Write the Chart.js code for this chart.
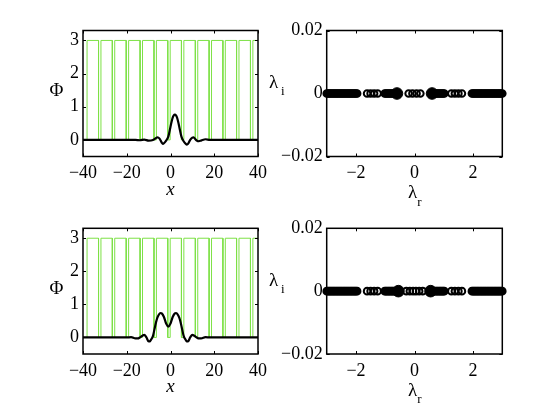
<!DOCTYPE html>
<html>
<head>
<meta charset="utf-8">
<script src="https://cdn.jsdelivr.net/npm/chart.js@4.4.1/dist/chart.umd.min.js"></script>
<style>
body { margin: 0; background: #fff; }
#fig { position: relative; width: 554px; height: 416px; }
canvas { position: absolute; }
#probe { position: absolute; left: -999px; top: 0; font-family: "Liberation Serif"; }
</style>
</head>
<body>
<div id="probe">0123 Φλ <i>x</i></div>
<div id="fig">
<canvas id="c1" width="277" height="208" style="left:0;top:0"></canvas>
<canvas id="c2" width="304" height="208" style="left:250px;top:0"></canvas>
<canvas id="c3" width="277" height="208" style="left:0;top:208px"></canvas>
<canvas id="c4" width="304" height="208" style="left:250px;top:208px"></canvas>
</div>
<script>
// ticks
var xTicks = [-40, -20, 0, 20, 40];
var phiTicks = [0, 1, 2, 3];
var lamTicks = [-2, 0, 2];
var imTicks = [-0.02, 0, 0.02];

// lattice potential (green): value 3 except in the narrow gaps
var potHigh = 3;
var gapStart = [-40, -32.9, -26.6, -20.25, -13.9, -7.55, -1.25, 5.0, 11.35, 17.65, 23.95, 30.2, 36.55];
var gapEnd = [-38.15, -31.8, -25.5, -19.15, -12.8, -6.45, -0.15, 6.1, 12.45, 18.75, 25.05, 31.3, 37.65];

// soliton profile, top row
var xTop = [-40, -16, -14, -12, -10, -8, -6.5, -6, -5, -4, -3.5, -3, -2, -1, 0, 0.5, 1, 1.5, 2, 2.5, 3, 3.5, 4, 5, 6, 7, 7.5, 8, 9, 10, 10.5, 11, 12, 13, 14, 16, 18, 40];
var phiTop = [0, 0, -0.01, 0.01, -0.02, 0, 0.06, 0.08, 0.04, -0.08, -0.12, -0.1, -0.02, 0.1, 0.4, 0.55, 0.67, 0.74, 0.76, 0.74, 0.67, 0.55, 0.4, 0.1, -0.04, -0.12, -0.14, -0.12, 0, 0.07, 0.08, 0.05, -0.02, -0.04, -0.02, 0.02, 0, 0];

// soliton profile, bottom row
var xBot = [-40, -20, -18, -16, -15, -14, -12.5, -12, -11, -10, -9.5, -9, -8, -7, -6, -5, -4.5, -4, -3, -2, -1, 0, 1, 2, 2.5, 3, 4, 5, 6, 7, 7.5, 8, 9, 10, 10.5, 12, 13, 14, 16, 18, 40];
var phiBot = [0, 0, 0.01, -0.03, -0.03, 0, 0.07, 0.08, 0, -0.12, -0.12, -0.08, 0.05, 0.35, 0.6, 0.72, 0.74, 0.73, 0.62, 0.42, 0.33, 0.42, 0.62, 0.73, 0.74, 0.72, 0.6, 0.35, 0.05, -0.08, -0.12, -0.12, 0, 0.08, 0.07, 0, -0.03, -0.03, 0.01, 0, 0];

// eigenvalues lambda_r (all on lambda_i = 0); dense bands + sparse ones
var eigTop = [-3.00, -2.96, -2.92, -2.88, -2.84, -2.80, -2.76, -2.72, -2.68, -2.64, -2.60, -2.56, -2.52, -2.48, -2.44, -2.40, -2.36, -2.32, -2.28, -2.24, -2.20, -2.16, -2.12, -2.08, -2.04, -2.00, -1.96,
  -1.62, -1.50, -1.38, -1.26,
  -1.02, -0.98, -0.94, -0.90, -0.86, -0.82, -0.78, -0.74, -0.70, -0.66, -0.62,
  -0.20, -0.07, 0.07, 0.20,
  0.62, 0.66, 0.70, 0.74, 0.78, 0.82, 0.86, 0.90, 0.94, 0.98, 1.02,
  1.26, 1.38, 1.50, 1.62,
  1.96, 2.00, 2.04, 2.08, 2.12, 2.16, 2.20, 2.24, 2.28, 2.32, 2.36, 2.40, 2.44, 2.48, 2.52, 2.56, 2.60, 2.64, 2.68, 2.72, 2.76, 2.80, 2.84, 2.88, 2.92, 2.96, 3.00];
var bigTop = [-0.60, 0.60];

var eigBot = [-3.00, -2.96, -2.92, -2.88, -2.84, -2.80, -2.76, -2.72, -2.68, -2.64, -2.60, -2.56, -2.52, -2.48, -2.44, -2.40, -2.36, -2.32, -2.28, -2.24, -2.20, -2.16, -2.12, -2.08, -2.04, -2.00, -1.96,
  -1.62, -1.50, -1.38, -1.26,
  -1.02, -0.98, -0.94, -0.90, -0.86, -0.82, -0.78, -0.74, -0.70, -0.66, -0.62,
  -0.28, -0.16, -0.05, 0.05, 0.16, 0.28,
  0.62, 0.66, 0.70, 0.74, 0.78, 0.82, 0.86, 0.90, 0.94, 0.98, 1.02,
  1.26, 1.38, 1.50, 1.62,
  1.96, 2.00, 2.04, 2.08, 2.12, 2.16, 2.20, 2.24, 2.28, 2.32, 2.36, 2.40, 2.44, 2.48, 2.52, 2.56, 2.60, 2.64, 2.68, 2.72, 2.76, 2.80, 2.84, 2.88, 2.92, 2.96, 3.00];
var bigBot = [-0.55, 0.55];

var FONT = '"Liberation Serif", "Times New Roman", Times, serif';

function potentialPoints() {
    var pts = [];
    for (var i = 0; i < gapStart.length; i++) {
        pts.push({x: gapStart[i], y: i == 0 ? 0 : potHigh});
        pts.push({x: gapStart[i], y: 0});
        pts.push({x: gapEnd[i], y: 0});
        pts.push({x: gapEnd[i], y: potHigh});
    }
    pts.push({x: 40, y: potHigh});
    return pts;
}

function pairs(xs, ys) {
    return xs.map(function (v, i) { return {x: v, y: ys[i]}; });
}
function onAxis(xs) {
    return xs.map(function (v) { return {x: v, y: 0}; });
}
function minus(v) {
    return String(v).replace('-', '\u2212');
}

// box with inward ticks on all four sides, plus the axis labels
var boxPlugin = {
    id: 'box',
    afterDraw: function (chart) {
        var a = chart.chartArea, ctx = chart.ctx;
        var sx = chart.scales.x, sy = chart.scales.y;
        var o = chart.options.plugins.box;
        ctx.save();
        ctx.strokeStyle = '#000';
        ctx.lineWidth = 1;
        ctx.beginPath();
        sx.ticks.forEach(function (t) {
            var p = Math.round(sx.getPixelForValue(t.value)) + 0.5;
            ctx.moveTo(p, a.bottom); ctx.lineTo(p, a.bottom - 3);
            ctx.moveTo(p, a.top); ctx.lineTo(p, a.top + 3);
        });
        sy.ticks.forEach(function (t) {
            var p = Math.round(sy.getPixelForValue(t.value)) + 0.5;
            ctx.moveTo(a.left, p); ctx.lineTo(a.left + 3, p);
            ctx.moveTo(a.right, p); ctx.lineTo(a.right - 3, p);
        });
        ctx.stroke();
        ctx.lineWidth = 1.5;
        ctx.strokeRect(a.left, a.top, a.right - a.left, a.bottom - a.top);

        ctx.fillStyle = '#000';
        var midY = (a.top + a.bottom) / 2, midX = (a.left + a.right) / 2;
        ctx.textBaseline = 'middle';
        ctx.textAlign = 'center';
        if (o.ylab == 'Φ') {
            ctx.font = '19px ' + FONT;
            ctx.fillText('Φ', a.left - 26.5, midY - 2);
            ctx.font = 'italic 19px ' + FONT;
            ctx.textBaseline = 'alphabetic';
            ctx.fillText('x', midX, a.bottom + 38);
        } else {
            ctx.font = '19px ' + FONT;
            ctx.fillText('λ', a.left - 53, midY - 10);
            ctx.font = '13px ' + FONT;
            ctx.fillText('i', a.left - 44, midY - 2);
            ctx.font = '19px ' + FONT;
            ctx.fillText('λ', midX - 2, a.bottom + 37);
            ctx.font = '13px ' + FONT;
            ctx.fillText('r', midX + 5, a.bottom + 46);
        }
        ctx.restore();
    }
};

function axisCommon(min, max, ticks, fixedSize, isX) {
    return {
        type: 'linear',
        min: min,
        max: max,
        grid: {display: false, drawTicks: false},
        border: {display: false},
        afterBuildTicks: function (s) {
            s.ticks = ticks.map(function (v) { return {value: v}; });
        },
        afterFit: function (s) {
            if (isX) s.height = fixedSize; else s.width = fixedSize;
        },
        ticks: {
            color: '#000',
            font: {family: FONT, size: 18},
            padding: isX ? 6 : 4,
            maxRotation: 0,
            autoSkip: false,
            callback: function (v) { return minus(v); }
        }
    };
}

function profileChart(id, xs, ys, padTop, xH) {
    new Chart(document.getElementById(id), {
        type: 'line',
        data: {
            datasets: [{
                data: pairs(xs, ys),
                borderColor: '#000',
                borderWidth: 2.2,
                pointRadius: 0,
                cubicInterpolationMode: 'monotone',
                order: 1
            }, {
                data: potentialPoints(),
                borderColor: 'rgb(125,225,70)',
                borderWidth: 1,
                pointRadius: 0,
                tension: 0,
                order: 2
            }]
        },
        options: {
            responsive: false,
            animation: false,
            parsing: false,
            layout: {padding: {top: padTop, right: 19, left: 0, bottom: 0}},
            plugins: {legend: {display: false}, tooltip: {enabled: false}, box: {ylab: 'Φ'}},
            scales: {
                x: axisCommon(-40, 40, xTicks, xH, true),
                y: axisCommon(-0.5, 3.3, phiTicks, 83, false)
            }
        },
        plugins: [boxPlugin]
    });
}

function spectrumChart(id, eig, big, padTop, xH) {
    new Chart(document.getElementById(id), {
        type: 'scatter',
        data: {
            datasets: [{
                data: onAxis(big),
                pointRadius: 5.8,
                borderWidth: 1,
                borderColor: '#000',
                backgroundColor: '#000',
                clip: false,
                order: 1
            }, {
                data: onAxis(eig),
                pointRadius: 3.3,
                borderWidth: 2,
                borderColor: '#000',
                backgroundColor: 'rgba(0,0,0,0)',
                clip: false,
                order: 2
            }]
        },
        options: {
            responsive: false,
            animation: false,
            parsing: false,
            layout: {padding: {top: padTop, right: 51.7, left: 0, bottom: 0}},
            plugins: {legend: {display: false}, tooltip: {enabled: false}, box: {ylab: 'λ'}},
            scales: {
                x: axisCommon(-3, 3, lamTicks, xH, true),
                y: axisCommon(-0.02, 0.02, imTicks, 76.7, false)
            }
        },
        plugins: [boxPlugin]
    });
}

function drawAll() {
    profileChart('c1', xTop, phiTop, 30.5, 51.5);
    spectrumChart('c2', eigTop, bigTop, 30.5, 51.5);
    profileChart('c3', xBot, phiBot, 20.3, 62);
    spectrumChart('c4', eigBot, bigBot, 20.3, 62);
}

Promise.all([
    document.fonts.load('18px "Liberation Serif"'),
    document.fonts.load('italic 19px "Liberation Serif"')
]).then(drawAll, drawAll);
</script>
</body>
</html>
